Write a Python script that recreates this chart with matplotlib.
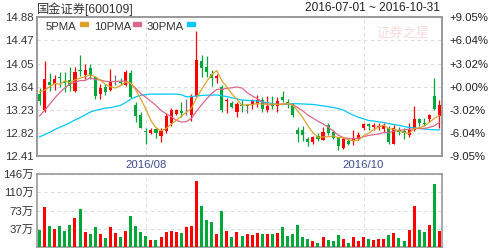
import numpy as np
import pandas as pd
import matplotlib
matplotlib.use("Agg")
import matplotlib.pyplot as plt
from matplotlib.patches import Rectangle

plt.rcParams['font.family'] = ['Liberation Sans', 'Noto Sans CJK SC']

# ── Data ─────────────────────────────────────────────────────────────────────
title = "国金证券[600109]"
date_range = "2016-07-01 ~ 2016-10-31"

opens = [13.51, 13.22, 13.72, 13.69, 13.82, 13.73, 13.76, 13.57, 13.94, 13.85,
         13.97, 13.81, 13.51, 13.64, 13.59, 13.74, 13.73, 13.67, 13.89, 13.31,
         13.13, 12.85, 12.81, 12.89, 12.77, 12.85, 12.99, 13.16, 13.21, 13.19,
         13.13, 13.48, 14.10, 13.99, 13.86, 13.79, 13.64, 13.38, 13.36, 13.20,
         13.31, 13.30, 13.31, 13.36, 13.40, 13.23, 13.32, 13.30, 13.46, 13.37,
         13.32, 12.87, 12.87, 12.72, 12.66, 12.76, 12.70, 12.96, 12.84, 12.73,
         12.55, 12.68, 12.67, 12.72, 12.90, 12.98, 12.92, 12.92, 12.89, 12.90,
         12.63, 12.88, 12.86, 12.78, 12.87, 13.06, 13.00, 13.06, 13.48, 13.12]
highs = [13.62, 14.10, 13.88, 13.85, 13.90, 13.91, 13.99, 13.99, 14.20, 14.04,
         14.04, 13.84, 13.69, 13.69, 13.95, 13.85, 13.79, 13.94, 13.94, 13.37,
         13.19, 12.91, 12.90, 12.93, 12.90, 13.17, 13.26, 13.24, 13.37, 13.43,
         13.51, 14.63, 14.20, 14.19, 13.94, 13.87, 13.67, 13.44, 13.38, 13.37,
         13.40, 13.34, 13.42, 13.50, 13.46, 13.48, 13.47, 13.46, 13.56, 13.42,
         13.36, 12.93, 12.94, 12.75, 12.77, 12.81, 12.93, 13.00, 12.88, 12.75,
         12.75, 12.71, 12.88, 12.84, 13.00, 13.00, 13.00, 13.00, 12.99, 12.94,
         12.96, 12.93, 12.90, 12.99, 13.30, 13.09, 13.08, 13.16, 13.80, 13.40]
lows = [13.31, 13.19, 13.56, 13.58, 13.63, 13.54, 13.56, 13.55, 13.83, 13.77,
        13.77, 13.42, 13.42, 13.50, 13.57, 13.67, 13.67, 13.66, 13.44, 13.01,
        12.90, 12.63, 12.80, 12.73, 12.66, 12.81, 12.95, 13.13, 13.10, 13.13,
        13.03, 13.46, 13.82, 13.82, 13.66, 13.70, 13.20, 13.18, 13.26, 13.10,
        13.20, 13.18, 13.25, 13.28, 13.19, 13.19, 13.25, 13.19, 13.37, 13.26,
        13.10, 12.66, 12.67, 12.59, 12.62, 12.68, 12.69, 12.79, 12.71, 12.51,
        12.53, 12.61, 12.61, 12.69, 12.87, 12.87, 12.87, 12.87, 12.83, 12.63,
        12.63, 12.79, 12.72, 12.74, 12.85, 12.94, 12.94, 13.02, 13.22, 12.90]
closes = [13.39, 13.78, 13.68, 13.77, 13.79, 13.70, 13.65, 13.90, 13.92, 13.94,
          13.85, 13.48, 13.61, 13.54, 13.72, 13.74, 13.70, 13.91, 13.46, 13.12,
          12.91, 12.83, 12.88, 12.81, 12.85, 13.12, 13.22, 13.22, 13.18, 13.19,
          13.48, 14.12, 13.98, 13.90, 13.80, 13.84, 13.23, 13.41, 13.28, 13.33,
          13.29, 13.30, 13.40, 13.41, 13.25, 13.30, 13.30, 13.38, 13.40, 13.35,
          13.13, 12.80, 12.79, 12.66, 12.74, 12.72, 12.83, 12.81, 12.73, 12.59,
          12.72, 12.63, 12.73, 12.79, 12.97, 12.95, 12.96, 12.95, 12.96, 12.65,
          12.90, 12.83, 12.81, 12.87, 13.06, 12.99, 12.98, 13.13, 13.24, 13.31]
volumes = [34, 80, 42, 36, 42, 32, 44, 58, 76, 30,
           26, 40, 26, 18, 40, 28, 20, 32, 62, 42,
           30, 22, 14, 14, 20, 30, 32, 30, 28, 40,
           42, 133, 82, 54, 50, 26, 72, 32, 20, 30,
           22, 26, 24, 28, 26, 26, 26, 28, 40, 22,
           26, 44, 20, 16, 12, 8, 20, 14, 12, 24,
           16, 8, 20, 12, 20, 16, 14, 16, 16, 24,
           28, 18, 12, 34, 82, 34, 30, 44, 127, 32]  # 万

# MA values before a full window exists inside the range
ma5_head = [13.55, 13.58, 13.64, 13.70]
ma10_head = [13.12, 13.22, 13.33, 13.44, 13.54, 13.62, 13.69, 13.72, 13.75]
ma30_head = [12.75, 12.79, 12.83, 12.88, 12.92, 12.96, 13.00, 13.05, 13.09, 13.14,
             13.19, 13.22, 13.24, 13.26, 13.27, 13.29, 13.31, 13.36, 13.42, 13.46,
             13.49, 13.50, 13.51, 13.51, 13.51, 13.51, 13.51, 13.51, 13.50]

month_ticks = [21, 64]
month_labels = ["2016/08", "2016/10"]
price_ticks = [12.41, 12.82, 13.23, 13.64, 14.05, 14.47, 14.88]
pct_labels = ["-9.05%", "-6.04%", "-3.02%", "+0.00%", "+3.02%", "+6.04%", "+9.05%"]
vol_ticks = [37, 73, 110, 146]

# ── Styling ──────────────────────────────────────────────────────────────────
RED, GREEN, GRAY = "#ff0000", "#00a83a", "#707070"
C5, C10, C30 = "#dba32a", "#d8688c", "#00c8f8"
FRAME = "#999999"
GRID = "#dddddd"
FS = 8.2

W, H = 488, 250
fig = plt.figure(figsize=(W / 100, H / 100), dpi=100)
fig.patch.set_facecolor("white")


def px_box(x0, y0, x1, y1):
    return [x0 / W, 1 - y1 / H, (x1 - x0) / W, (y1 - y0) / H]


ax = fig.add_axes(px_box(37, 17, 442, 156))
axv = fig.add_axes(px_box(37, 174, 442, 247))

n = len(closes)
x = np.arange(n)
o = np.array(opens)
c = np.array(closes)
prev = np.concatenate([[c[0]], c[:-1]])
up = (c > o) | ((c == o) & (c >= prev))
cand_col = np.where(c > o, RED, np.where(c < o, GREEN, GRAY))
vol_col = np.where(up, RED, GREEN)

# candles
ax.vlines(x, lows, highs, colors=cand_col, lw=0.9, zorder=3)
body = np.maximum(np.abs(c - o), 0.008)
ax.bar(x, body, bottom=np.minimum(o, c), width=0.62, color=cand_col,
       linewidth=0, zorder=4)

# moving averages
s = pd.Series(closes)
ma5 = s.rolling(5).mean().to_numpy()
ma10 = s.rolling(10).mean().to_numpy()
ma30 = s.rolling(30).mean().to_numpy()
ma5[:len(ma5_head)] = ma5_head
ma10[:len(ma10_head)] = ma10_head
ma30[:len(ma30_head)] = ma30_head
ax.plot(x, ma30, color=C30, lw=0.9, zorder=5)
ax.plot(x, ma10, color=C10, lw=0.9, zorder=5)
ax.plot(x, ma5, color=C5, lw=0.9, zorder=5)

ax.set_xlim(-0.5, n - 0.5)
ax.set_ylim(price_ticks[0], price_ticks[-1])
ax.set_yticks(price_ticks)
ax.set_yticklabels([f"{v:.2f}" for v in price_ticks])
ax.set_xticks(month_ticks)
ax.set_xticklabels(month_labels)
ax.tick_params(axis="y", length=0, pad=2.5, labelsize=FS, labelcolor="#333333")
ax.tick_params(axis="x", length=0, pad=3, labelsize=FS, labelcolor="#3c4c8c")
ax.grid(True, color=GRID, ls=(0, (3, 3)), lw=0.8, zorder=0)

axr = ax.twinx()
axr.set_ylim(ax.get_ylim())
axr.set_yticks(price_ticks)
axr.set_yticklabels(pct_labels)
axr.tick_params(axis="y", length=0, pad=5.5, labelsize=FS, labelcolor="#222222")

# volume
axv.bar(x, volumes, width=0.6, color=vol_col, linewidth=0, zorder=3)
axv.set_xlim(-0.5, n - 0.5)
axv.set_ylim(0, vol_ticks[-1])
axv.set_yticks(vol_ticks)
axv.set_yticklabels([f"{v}万" for v in vol_ticks])
axv.set_xticks(month_ticks)
axv.set_xticklabels([])
axv.tick_params(length=0, pad=2.5, labelsize=FS, labelcolor="#333333")
axv.grid(True, color=GRID, ls=(0, (3, 3)), lw=0.8, zorder=0)

for a in (ax, axr, axv):
    for sp in a.spines.values():
        sp.set_color(FRAME)
        sp.set_linewidth(1.2)

# header
fig.text(37 / W, 1 - 9 / H, title, fontsize=8.8, color="#333333",
         va="center", ha="left")
fig.text(440 / W, 1 - 8 / H, date_range, fontsize=8.6, color="#222222",
         va="center", ha="right")

# legend
for label, col, tx, rx in [("5PMA", C5, 46, 80), ("10PMA", C10, 94, 133),
                           ("30PMA", C30, 147, 187)]:
    fig.text(tx / W, 1 - 27.5 / H, label, fontsize=FS, color="#333333",
             va="center", ha="left")
    fig.patches.append(Rectangle((rx / W, 1 - 25.5 / H), 8 / W, 3 / H,
                                 transform=fig.transFigure, color=col,
                                 figure=fig))

# faint watermark
fig.text(403 / W, 1 - 33 / H, "证券之星", fontsize=9.5, color="#f8d0d0",
         family=["Noto Sans CJK SC"], va="center", ha="center", alpha=0.8)

fig.savefig("out.png", dpi=100)
